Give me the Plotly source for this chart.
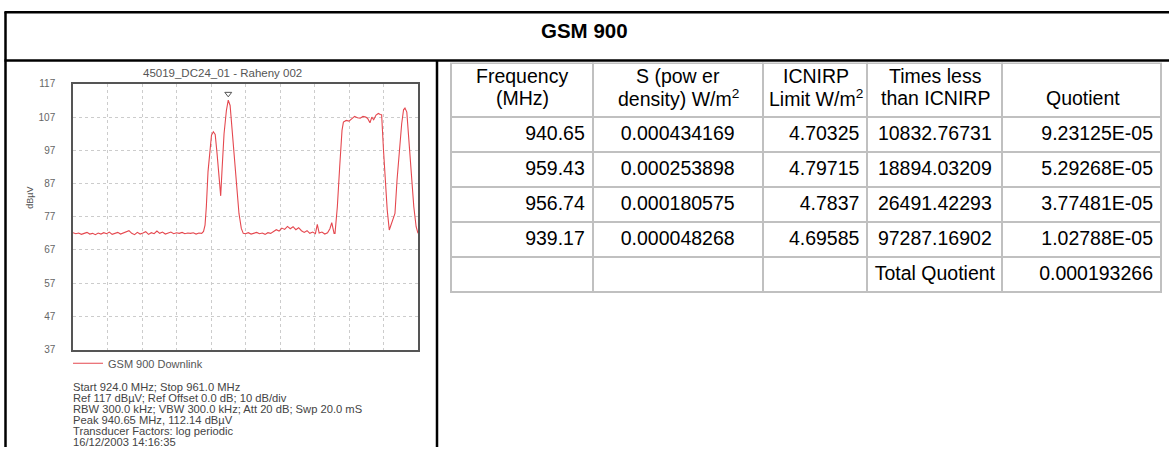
import plotly.graph_objects as go

W, H = 1169, 453

# ---------------- spectrum data ----------------
freq_mhz = [
    924.0, 924.3, 924.6, 924.9, 925.2, 925.5, 925.8, 926.1, 926.4, 926.7,
    927.0, 927.3, 927.6, 927.9, 928.2, 928.5, 928.8, 929.1, 929.4, 929.7,
    930.0, 930.3, 930.6, 930.9, 931.2, 931.5, 931.8, 932.1, 932.4, 932.7,
    933.0, 933.3, 933.6, 933.9, 934.2, 934.5, 934.8, 935.1, 935.4, 935.7,
    936.0, 936.3, 936.6, 936.9, 937.2, 937.5, 937.8, 938.0, 938.16, 938.3,
    938.48, 938.65, 938.85, 939.05, 939.25, 939.45, 939.65, 939.84, 940.0, 940.2,
    940.45, 940.65, 940.85, 941.05, 941.3, 941.55, 941.8, 942.05, 942.26, 942.5,
    942.8, 943.1, 943.4, 943.7, 944.0, 944.3, 944.6, 944.9, 945.2, 945.5,
    945.8, 946.1, 946.4, 946.7, 947.0, 947.3, 947.6, 947.9, 948.2, 948.5,
    948.8, 949.1, 949.4, 949.7, 950.0, 950.2, 950.4, 950.7, 951.0, 951.3,
    951.55, 951.75, 952.0, 952.1, 952.35, 952.6, 952.85, 953.0, 953.3, 953.6,
    953.9, 954.2, 954.5, 954.8, 955.1, 955.4, 955.6, 955.85, 956.05, 956.25,
    956.5, 956.75, 956.95, 957.1, 957.3, 957.5, 957.7, 957.92, 958.1, 958.3,
    958.53, 958.75, 959.0, 959.25, 959.45, 959.6, 959.8, 960.0, 960.3, 960.55,
    960.8, 961.0,
]
level_dbuv = [
    72.2, 71.9, 72.1, 71.7, 72.0, 72.3, 71.8, 72.0, 71.6, 72.1,
    71.8, 72.2, 71.9, 72.4, 71.7, 72.0, 72.3, 71.8, 72.1, 72.6,
    72.8, 72.0, 71.6, 72.3, 71.8, 72.1, 72.5, 71.7, 72.2, 71.9,
    72.7, 72.0, 72.4, 71.8, 72.1, 72.4, 71.9, 72.2, 72.0, 72.3,
    71.9, 72.1, 72.0, 72.2, 71.8, 72.1, 72.0, 72.6, 74.5, 80.0,
    90.6, 96.0, 101.5, 102.6, 101.8, 96.0, 88.0, 83.3, 92.0, 102.0,
    109.0, 112.1, 110.5, 104.0, 95.0, 86.0, 78.0, 73.5, 72.0, 71.9,
    72.2, 71.8, 72.0, 72.3, 71.9, 72.1, 71.7, 72.2, 72.0, 72.6,
    73.1, 72.7, 73.6, 73.2, 74.1, 73.4, 74.0, 73.1, 73.7, 72.8,
    72.3, 72.8, 72.0, 72.4, 71.9, 74.7, 72.1, 72.4, 71.8, 72.2,
    73.4, 75.2, 72.0, 72.0, 80.0, 92.0, 103.0, 105.5, 106.0, 105.8,
    106.4, 107.2, 106.8, 106.7, 107.2, 107.0, 106.6, 105.3, 107.0, 106.2,
    107.6, 108.1, 107.8, 107.7, 97.0, 88.0, 79.0, 73.0, 74.5, 76.0,
    78.0, 88.0, 98.0, 105.0, 109.2, 109.7, 108.5, 101.0, 88.7, 80.0,
    74.0, 72.0,
]
peak_freq = [940.65]
peak_marker_level = [114.0]

y_ticks = [37, 47, 57, 67, 77, 87, 97, 107, 117]

chart_title = "45019_DC24_01 - Raheny 002"
series_name = "GSM 900 Downlink"
info_lines = [
    "Start 924.0 MHz; Stop 961.0 MHz",
    "Ref 117 dBµV; Ref Offset 0.0 dB; 10 dB/div",
    "RBW 300.0 kHz; VBW 300.0 kHz; Att 20 dB; Swp 20.0 mS",
    "Peak 940.65 MHz, 112.14 dBµV",
    "Transducer Factors: log periodic",
    "16/12/2003 14:16:35",
]

# ---------------- table data ----------------
header_line1 = ["Frequency", "S (pow er", "ICNIRP", "Times less", ""]
header_line2 = ["(MHz)", "density) W/m<sup>2</sup>", "Limit W/m<sup>2</sup>",
                "than ICNIRP", "Quotient"]
col_frequency = ["940.65", "959.43", "956.74", "939.17", ""]
col_power_density = ["0.000434169", "0.000253898", "0.000180575", "0.000048268", ""]
col_icnirp_limit = ["4.70325", "4.79715", "4.7837", "4.69585", ""]
col_times_less = ["10832.76731", "18894.03209", "26491.42293", "97287.16902", "Total\u00a0Quotient"]
col_quotient = ["9.23125E-05", "5.29268E-05", "3.77481E-05", "1.02788E-05", "0.000193266"]

page_title = "GSM 900"

# layout geometry (pixels)
TABLE_LEFT, TABLE_RIGHT, TABLE_TOP = 451, 1162, 59
col_widths = [142, 170, 105, 135, 159]


def px(x):
    return x / W


def py(y):
    return 1 - y / H


FONT = "Liberation Sans, Arial, sans-serif"
GRAY_TXT = "#555555"
TABLE_FONT_SIZE = 19.5

fig = go.Figure()

fig.add_trace(go.Scatter(
    x=freq_mhz, y=level_dbuv, mode="lines", name=series_name,
    line=dict(color="#e5484f", width=1.1), showlegend=True,
    xaxis="x", yaxis="y",
))
fig.add_trace(go.Scatter(
    x=peak_freq, y=peak_marker_level, mode="markers", showlegend=False,
    marker=dict(symbol="triangle-down-open", size=6, color="#555555",
                line=dict(width=1)),
    xaxis="x", yaxis="y",
))

fig.add_trace(go.Table(
    domain=dict(x=[px(TABLE_LEFT), px(TABLE_RIGHT)], y=[0, py(TABLE_TOP)]),
    columnwidth=col_widths,
    header=dict(
        values=[""] * len(col_widths),
        align="center",
        height=54,
        fill=dict(color="white"),
        line=dict(color="#c0c0c0", width=2),
        font=dict(family=FONT, size=TABLE_FONT_SIZE, color="black"),
    ),
    cells=dict(
        values=[col_frequency, col_power_density, col_icnirp_limit,
                col_times_less, col_quotient],
        align=["right", "center", "right", "center", "right"],
        height=35,
        fill=dict(color="white"),
        line=dict(color="#c0c0c0", width=2),
        font=dict(family=FONT, size=TABLE_FONT_SIZE, color="black"),
    ),
))

shapes = [
    dict(type="line", xref="paper", yref="paper", x0=px(4.5), x1=1, y0=py(6.5), y1=py(6.5),
         line=dict(color="black", width=2.5)),
    dict(type="line", xref="paper", yref="paper", x0=px(4.5), x1=1, y0=py(56), y1=py(56),
         line=dict(color="black", width=2.5)),
    dict(type="line", xref="paper", yref="paper", x0=px(5.5), x1=px(5.5), y0=py(6), y1=0,
         line=dict(color="black", width=2.5)),
    dict(type="line", xref="paper", yref="paper", x0=px(437), x1=px(437), y0=py(56), y1=0,
         line=dict(color="black", width=2.5)),
]

annotations = [
    dict(text=f"<b>{page_title}</b>", x=px(584.5), y=py(25), xref="paper", yref="paper",
         showarrow=False, xanchor="center", yanchor="middle",
         font=dict(family=FONT, size=20.5, color="black")),
    dict(text=chart_title, x=px(222), y=py(69), xref="paper", yref="paper",
         showarrow=False, xanchor="center", yanchor="middle",
         font=dict(family=FONT, size=11.5, color=GRAY_TXT)),
    dict(text="dBµV", x=px(30), y=py(197), xref="paper", yref="paper", textangle=-90,
         showarrow=False, xanchor="center", yanchor="middle",
         font=dict(family=FONT, size=9, color=GRAY_TXT)),
]
for i, line in enumerate(info_lines):
    annotations.append(dict(
        text=line, x=px(71), y=py(391 + i * 11.35), xref="paper", yref="paper",
        showarrow=False, xanchor="left", yanchor="middle",
        font=dict(family=FONT, size=11.2, color="#444444")))

# centered two-line header texts (each line centered in its column)
left = TABLE_LEFT
for w, l1, l2 in zip(col_widths, header_line1, header_line2):
    cx = left + w / 2
    for txt, yy in ((l1, 72), (l2, 94)):
        if txt:
            annotations.append(dict(
                text=txt, x=px(cx), y=py(yy), xref="paper", yref="paper",
                showarrow=False, xanchor="center", yanchor="middle",
                font=dict(family=FONT, size=TABLE_FONT_SIZE, color="black")))
    left += w

fig.update_layout(
    width=W, height=H,
    margin=dict(l=0, r=0, t=0, b=0),
    paper_bgcolor="white", plot_bgcolor="white",
    font=dict(family=FONT),
    xaxis=dict(
        domain=[px(73), px(418)], range=[924, 961], tick0=924, dtick=3.7,
        showticklabels=False, ticks="", showgrid=True, gridcolor="#cccccc",
        griddash="dot", gridwidth=1, zeroline=False,
        showline=True, mirror=True, linecolor="#555555", linewidth=1.5,
        anchor="y",
    ),
    yaxis=dict(
        domain=[py(353), py(80)], range=[37, 117], tickvals=y_ticks,
        showgrid=True, gridcolor="#cccccc", griddash="dot", gridwidth=1,
        zeroline=False, showline=True, mirror=True, linecolor="#555555",
        linewidth=1.5, ticks="", ticklabelstandoff=14,
        tickfont=dict(family=FONT, size=10, color="#666666"), anchor="x",
    ),
    legend=dict(
        x=px(68), y=py(367), xanchor="left", yanchor="middle",
        bgcolor="rgba(0,0,0,0)", borderwidth=0,
        font=dict(family=FONT, size=11, color=GRAY_TXT),
    ),
    shapes=shapes,
    annotations=annotations,
)

fig.write_html("out.html", config={"displayModeBar": False},
               post_script="document.body.style.margin='0';")
